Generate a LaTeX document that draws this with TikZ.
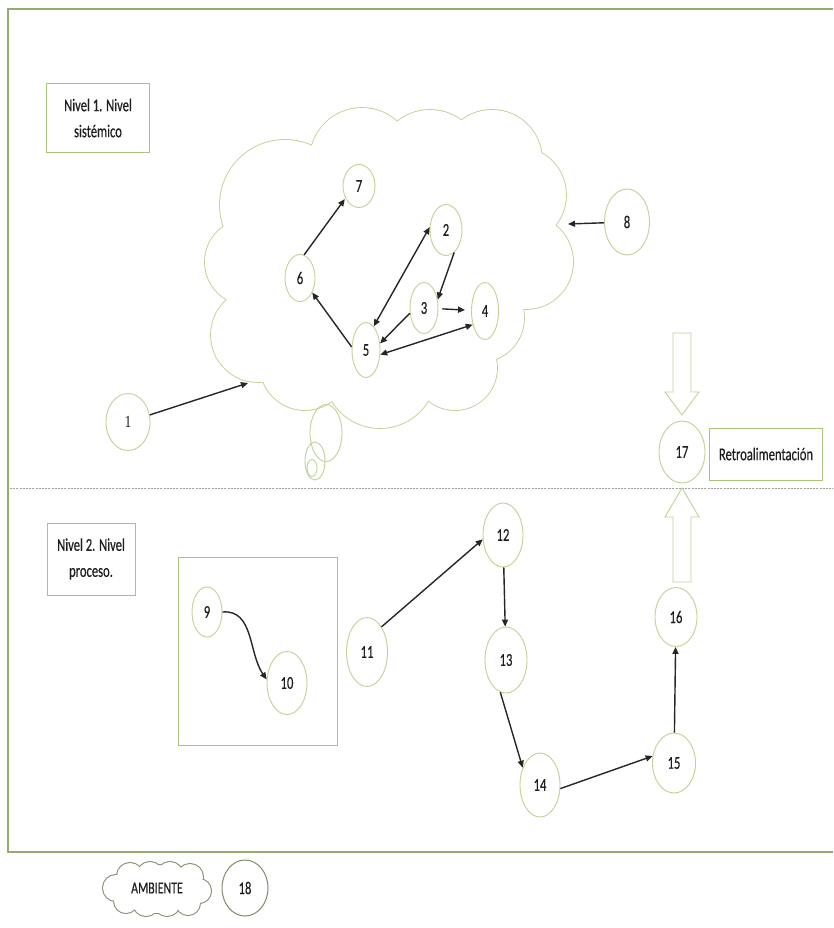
\documentclass[tikz,border=0pt]{standalone}
\usepackage{fontspec}
\setmainfont[FakeStretch=0.7,FakeBold=0.4]{Carlito}
\newfontfamily\serifnum[FakeStretch=0.8]{Liberation Serif}
\usetikzlibrary{shapes.geometric,shapes.symbols,arrows.meta}
\definecolor{olv}{RGB}{192,210,148}
\definecolor{frm}{RGB}{150,172,110}
\definecolor{boxg}{RGB}{170,196,120}
\definecolor{dgray}{RGB}{160,160,160}
\definecolor{ambg}{RGB}{130,140,110}
\definecolor{ink}{RGB}{30,30,30}
\begin{document}
\begin{tikzpicture}[x=1pt,y=1pt,
  num/.style={ellipse, draw=olv, line width=0.9pt, fill=white, inner sep=0pt, text=ink, font=\fontsize{18}{20}\selectfont},
  lbl/.style={draw=boxg, line width=0.9pt, fill=white, align=center, inner sep=0pt, text=ink, font=\fontsize{18}{26}\selectfont},
  arr/.style={-{Triangle[length=7pt,width=6pt]}, line width=1.4pt, black!85},
  darr/.style={{Triangle[length=7pt,width=6pt]}-{Triangle[length=7pt,width=6pt]}, line width=1.4pt, black!85},
  blockarr/.style={draw=olv, line width=0.9pt, fill=white, line join=miter}
]
\useasboundingbox (0,0) rectangle (833,-928);
\fill[white] (0,0) rectangle (833,-928);
% frame and separator
\draw[frm, line width=1.1pt] (833,-9) -- (8,-9) -- (8,-852) -- (833,-852);
\draw[dgray, line width=0.8pt, dash pattern=on 2pt off 1.2pt] (10,-488) -- (833,-488);
% main cloud (union of lobes)
\def\lobes{285/205/65, 248/262/43, 258/335/47, 305/365/45, 380/372/56, 455/368/42, 480/318/44, 526/262/47, 518/195/48, 492/160/50, 430/162/52, 362/160/52, 400/260/100, 300/290/60, 480/240/70}
\foreach \cx/\cy/\r in \lobes {\draw[olv, line width=1.8pt] (\cx,-\cy) circle[radius=\r];}
\foreach \cx/\cy/\r in \lobes {\fill[white] (\cx,-\cy) circle[radius=\r];}
% thought bubbles
\draw[olv, line width=0.9pt] (326,-433) ellipse[x radius=16, y radius=28.5];
\draw[olv, line width=0.9pt] (315,-461) ellipse[x radius=10, y radius=19];
\draw[olv, line width=0.9pt] (312,-468) ellipse[x radius=5, y radius=8.5];
% labels
\node[lbl, minimum width=103pt, minimum height=69pt] (lv1) at (98,-118) {Nivel 1. Nivel\\sistémico};
\node[lbl, minimum width=88pt, minimum height=72pt] (lv2) at (91,-559) {Nivel 2. Nivel\\proceso.};
\node[lbl, minimum width=113pt, minimum height=52pt] (retro) at (766,-454) {Retroalimentación};
\draw[boxg, line width=0.9pt] (178,-557) rectangle (337,-745);
% block arrows
\draw[blockarr] (673,-333) -- (691,-333) -- (691,-392) -- (699,-392) -- (682,-415) -- (665,-392) -- (673,-392) -- cycle;
\draw[blockarr] (682,-488) -- (699,-517) -- (691,-517) -- (691,-582) -- (673,-582) -- (673,-517) -- (665,-517) -- cycle;
% numbered nodes
\node[num, minimum width=44pt, minimum height=57pt, font=\serifnum\fontsize{17}{19}\selectfont] (n1) at (128,-422) {1};
\node[num, minimum width=32pt, minimum height=51pt] (n2) at (446,-230) {2};
\node[num, minimum width=28pt, minimum height=51pt] (n3) at (424,-308) {3};
\node[num, minimum width=27pt, minimum height=57pt] (n4) at (485,-311) {4};
\node[num, minimum width=28pt, minimum height=55pt] (n5) at (366,-350) {5};
\node[num, minimum width=30pt, minimum height=47pt] (n6) at (300,-278) {6};
\node[num, minimum width=32pt, minimum height=43pt] (n7) at (359,-186) {7};
\node[num, minimum width=45pt, minimum height=66pt] (n8) at (627,-222) {8};
\node[num, minimum width=30pt, minimum height=50pt] (n9) at (207,-612) {9};
\node[num, minimum width=40pt, minimum height=63pt] (n10) at (287,-683) {10};
\node[num, minimum width=41pt, minimum height=69pt] (n11) at (367,-652) {11};
\node[num, minimum width=40pt, minimum height=64pt] (n12) at (503,-535) {12};
\node[num, minimum width=42pt, minimum height=66pt] (n13) at (506,-660) {13};
\node[num, minimum width=40pt, minimum height=64pt] (n14) at (540,-785) {14};
\node[num, minimum width=43pt, minimum height=60pt] (n15) at (674,-763) {15};
\node[num, minimum width=42pt, minimum height=59pt] (n16) at (676,-617) {16};
\node[num, minimum width=46pt, minimum height=62pt] (n17) at (682,-452) {17};
% legend cloud (union of puffs)
\def\amblobes{116/888/13, 130/876/13, 150/875/13, 170/875/13, 190/877/13, 199/891/12, 188/903/12, 167/903/13, 146/903/13, 126/901/12, 157/889/24, 133/889/16, 180/889/16}
\foreach \cx/\cy/\r in \amblobes {\draw[ambg, line width=2pt] (\cx,-\cy) circle[radius=\r];}
\foreach \cx/\cy/\r in \amblobes {\fill[white] (\cx,-\cy) circle[radius=\r];}
\node[text=ink, font=\fontsize{17}{19}\selectfont, inner sep=0pt] (ambt) at (157,-888) {AMBIENTE};
\node[num, draw=ambg, line width=1pt, minimum width=46pt, minimum height=56pt] (n18) at (245,-888) {18};
% connectors
\coordinate (c1) at (248,-383);
\coordinate (c8) at (568,-224);
\draw[arr] (n1) -- (c1);
\draw[arr] (n8) -- (c8);
\draw[arr, shorten >=1pt] (n6.80) -- (n7.222);
\draw[arr] (n5.168) -- (n6.310);
\draw[darr] (n5.72) -- (n2.170);
\draw[arr] (n2.290) -- (n3.32);
\draw[arr] (n3.200) -- (n5.25);
\draw[arr, shorten <=4pt, shorten >=6pt] (n3) -- (n4);
\draw[darr] (n5.-18) -- (n4.228);
\draw[arr] (n9.east) to[out=5, in=125] (n10.170);
\draw[arr] (n11.60) -- (n12.192);
\draw[arr] (n12) -- (n13);
\draw[arr] (n13.260) -- (n14.135);
\draw[arr] (n14.-10) -- (n15.162);
\draw[arr] (n15) -- (n16);
\end{tikzpicture}
\end{document}
